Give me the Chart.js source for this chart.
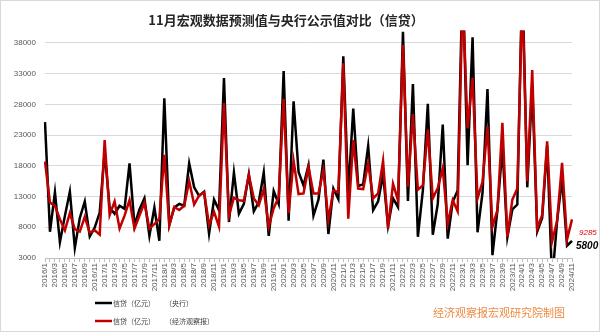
<!DOCTYPE html>
<html>
<head>
<meta charset="utf-8">
<script src="https://cdn.jsdelivr.net/npm/chart.js@4/dist/chart.umd.min.js"></script>
<style>
  html, body { margin: 0; padding: 0; background: #fff; }
</style>
</head>
<body>
<canvas id="creditChart" width="600" height="332"></canvas>
<script>
// Monthly categories, 2016/1 - 2024/11
const months = [
  '2016/1','2016/2','2016/3','2016/4','2016/5','2016/6','2016/7','2016/8','2016/9','2016/10','2016/11','2016/12',
  '2017/1','2017/2','2017/3','2017/4','2017/5','2017/6','2017/7','2017/8','2017/9','2017/10','2017/11','2017/12',
  '2018/1','2018/2','2018/3','2018/4','2018/5','2018/6','2018/7','2018/8','2018/9','2018/10','2018/11','2018/12',
  '2019/1','2019/2','2019/3','2019/4','2019/5','2019/6','2019/7','2019/8','2019/9','2019/10','2019/11','2019/12',
  '2020/1','2020/2','2020/3','2020/4','2020/5','2020/6','2020/7','2020/8','2020/9','2020/10','2020/11','2020/12',
  '2021/1','2021/2','2021/3','2021/4','2021/5','2021/6','2021/7','2021/8','2021/9','2021/10','2021/11','2021/12',
  '2022/1','2022/2','2022/3','2022/4','2022/5','2022/6','2022/7','2022/8','2022/9','2022/10','2022/11','2022/12',
  '2023/1','2023/2','2023/3','2023/4','2023/5','2023/6','2023/7','2023/8','2023/9','2023/10','2023/11','2023/12',
  '2024/1','2024/2','2024/3','2024/4','2024/5','2024/6','2024/7','2024/8','2024/9','2024/10','2024/11'
];

// 央行公示值（亿元）
const pbocLoans = [
  25100, 7266, 13700, 5556, 9855, 13800, 4636, 9487, 12200, 6513, 7946, 10400,
  20300, 11200, 10200, 11500, 11000, 18400, 8300, 10900, 12700, 6600, 11200, 5800,
  29000, 8400, 11200, 11800, 11500, 18400, 14500, 13100, 13800, 6970, 12500, 10800,
  32300, 8860, 16900, 10200, 11800, 16600, 10600, 12100, 16900, 6600, 13900, 11800,
  33400, 9057, 28500, 17000, 14800, 18100, 9900, 12500, 19000, 6900, 14300, 12600,
  35800, 13600, 27300, 14700, 15000, 21200, 10800, 12200, 16600, 8262, 12700, 11300,
  39800, 12300, 31300, 6454, 14000, 28100, 6790, 11800, 24700, 6152, 12100, 14000,
  49000, 18100, 38900, 7188, 13600, 30500, 3459, 10800, 21000, 6400, 10900, 11700,
  49200, 14500, 30900, 7300, 9500, 21300, -770, 9000, 15900, 5000, 5800
];

// 经济观察报预测值（亿元）
const eeoForecast = [
  18700, 12000, 11500, 9300, 7500, 10300, 7700, 7300, 9700, 7100, 7500, 6800,
  22200, 10000, 12200, 7800, 9900, 12400, 7800, 9900, 12000, 7800, 8500, 9400,
  19800, 8300, 11300, 10800, 11500, 15500, 11700, 13200, 13700, 8400, 10500, 8100,
  28200, 9900, 12800, 12400, 12300, 16500, 12700, 11600, 14200, 8100, 11100, 12900,
  28900, 10300, 18800, 13400, 13500, 17800, 13500, 13500, 17300, 9200, 14000, 13700,
  34700, 9400, 22200, 14300, 14200, 18400, 12700, 13500, 18800, 7800, 15100, 12400,
  37700, 14600, 26400, 14100, 14800, 23900, 12700, 14400, 17600, 8600, 12400, 10600,
  46000, 24100, 32300, 12700, 15400, 24400, 8100, 10800, 25000, 6400, 12500, 14300,
  46000, 15500, 33600, 7800, 10000, 22000, 5700, 9000, 18500, 6000, 9285
];

const yTicks = [3000, 8000, 13000, 18000, 23000, 28000, 33000, 38000];
const yMin = 3000;
const yMax = 40000;

const CJK = '"Noto Sans CJK SC", "Noto Sans", sans-serif';
const NUM = '"Liberation Sans", Arial, sans-serif';
const RED = '#c00000';

// white background, thin frame, legend, end-value tags and credit line
const decorations = {
    id: 'decorations',
    beforeDraw(chart) {
        const { ctx, width, height } = chart;
        ctx.save();
        ctx.fillStyle = '#fff';
        ctx.fillRect(0, 0, width, height);
        ctx.strokeStyle = '#d9d9d9';
        ctx.lineWidth = 1;
        ctx.strokeRect(0.5, 0.5, width - 1, height - 1);
        ctx.restore();
    },
    afterDraw(chart) {
        const { ctx } = chart;
        const xs = chart.scales.x, ys = chart.scales.y;
        const last = months.length - 1;
        const px = xs.getPixelForValue(last);
        ctx.save();
        ctx.textBaseline = 'middle';
        ctx.textAlign = 'left';

        // latest values next to line ends
        ctx.fillStyle = '#e00000';
        ctx.font = 'italic 8px ' + NUM;
        ctx.fillText(String(eeoForecast[last]), px + 7, ys.getPixelForValue(eeoForecast[last]) + 13);
        ctx.fillStyle = '#000';
        ctx.font = 'italic bold 10px ' + NUM;
        ctx.fillText(String(pbocLoans[last]), px + 4, ys.getPixelForValue(pbocLoans[last]) + 5);

        // legend, one row per series
        chart.data.datasets.forEach((ds, i) => {
            const rowY = 303 + i * 18;
            ctx.strokeStyle = ds.borderColor;
            ctx.lineWidth = 2.5;
            ctx.beginPath();
            ctx.moveTo(95, rowY);
            ctx.lineTo(112, rowY);
            ctx.stroke();
            ctx.fillStyle = '#404040';
            ctx.font = '7px ' + CJK;
            ctx.fillText(ds.label, 113, rowY);
            ctx.fillText(ds.source, 165, rowY);
        });

        ctx.fillStyle = '#ee8a44';
        ctx.font = '11px ' + CJK;
        ctx.fillText('经济观察报宏观研究院制图', 433, 313);
        ctx.restore();
    }
};

new Chart(document.getElementById('creditChart'), {
    type: 'line',
    data: {
        labels: months,
        datasets: [
            { label: '信贷（亿元）', source: '（央行）', data: pbocLoans, borderColor: '#000', order: 1 },
            { label: '信贷（亿元）', source: '（经济观察报）', data: eeoForecast, borderColor: RED, order: 0 }
        ]
    },
    options: {
        responsive: false,
        animation: false,
        layout: { padding: { left: 0, right: 28, top: 0, bottom: 0 } },
        elements: {
            line: { borderWidth: 2.5, tension: 0, fill: false },
            point: { radius: 0, hoverRadius: 0 }
        },
        scales: {
            x: {
                offset: false,
                grid: { display: true, drawOnChartArea: false, drawTicks: true, tickLength: 4, color: '#bfbfbf', offset: false },
                border: { display: true, color: '#bfbfbf' },
                ticks: {
                    autoSkip: false,
                    minRotation: 90,
                    maxRotation: 90,
                    padding: 1,
                    color: '#595959',
                    font: { family: NUM, size: 8 },
                    callback(v, i) { return i % 2 === 0 ? this.getLabelForValue(v) : ''; }
                },
                afterFit(s) { s.height = 74; }
            },
            y: {
                min: yMin,
                max: yMax,
                grid: { color: '#d9d9d9', drawTicks: false },
                border: { display: false },
                ticks: {
                    padding: 9,
                    color: '#595959',
                    font: { family: NUM, size: 8 },
                    callback: v => String(v)
                },
                afterBuildTicks(s) { s.ticks = yTicks.map(value => ({ value })); },
                afterFit(s) { s.width = 45; }
            }
        },
        plugins: {
            legend: { display: false },
            tooltip: { enabled: false },
            title: {
                display: true,
                text: '11月宏观数据预测值与央行公示值对比（信贷）',
                color: '#262626',
                font: { family: CJK, size: 13, weight: 'bold' },
                padding: { top: 12, bottom: 3 }
            }
        }
    },
    plugins: [decorations]
});
</script>
</body>
</html>
